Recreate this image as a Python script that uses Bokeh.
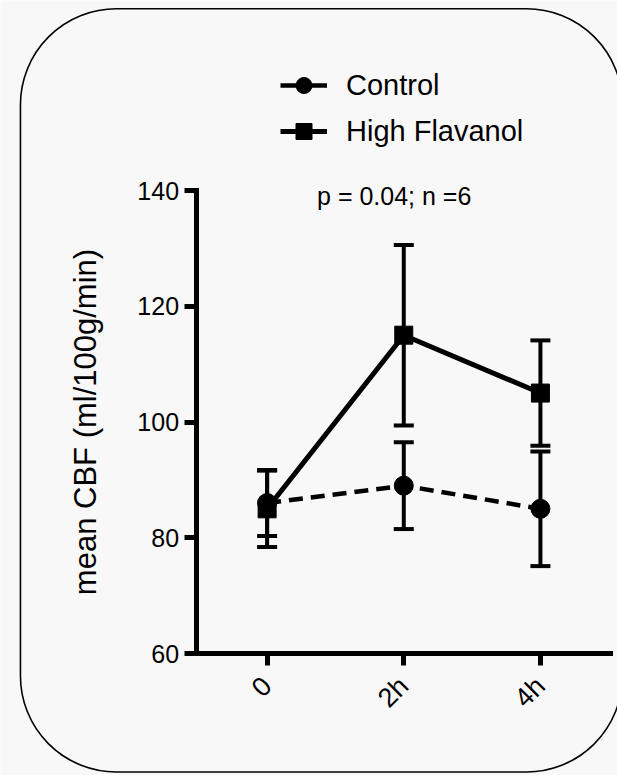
import numpy as np
from bokeh.plotting import figure
from bokeh.models import (Range1d, FixedTicker, Whisker, TeeHead, ColumnDataSource,
                          Legend, LegendItem, Label, BoxAnnotation)
from bokeh.embed import file_html
from bokeh.resources import INLINE

# ---- data ----
time_labels = ["0", "2h", "4h"]
control_mean = [86.0, 89.0, 85.0]
control_err = [5.7, 7.5, 9.9]
flavanol_mean = [85.0, 115.0, 105.0]
flavanol_err = [6.6, 15.6, 9.1]
y_ticks = [60, 80, 100, 120, 140]
annotation_text = "p = 0.04; n =6"
y_label = "mean CBF (ml/100g/min)"

BG = "#f8f8f8"
FONT = "Liberation Sans"

xs = list(range(len(time_labels)))

src_c = ColumnDataSource(dict(
    x=xs, mean=control_mean,
    lower=[m - e for m, e in zip(control_mean, control_err)],
    upper=[m + e for m, e in zip(control_mean, control_err)]))
src_f = ColumnDataSource(dict(
    x=xs, mean=flavanol_mean,
    lower=[m - e for m, e in zip(flavanol_mean, flavanol_err)],
    upper=[m + e for m, e in zip(flavanol_mean, flavanol_err)]))

# axis extents (where the drawn axes start/stop)
X_AXIS_BOUNDS = (-0.52, 2.51)
Y_AXIS_BOUNDS = (60, 140)

p = figure(width=617, height=775, output_backend="svg", toolbar_location=None,
           title=None,
           x_range=Range1d(-1.951, 2.564), y_range=Range1d(38.92, 172.83),
           min_border_left=0, min_border_right=0, min_border_top=0,
           min_border_bottom=0)
p.background_fill_color = BG
p.border_fill_color = BG
p.outline_line_color = None
p.grid.visible = False

# rounded frame around the whole graphic
frame_box = BoxAnnotation(left=-1.805, right=2.60, top=171.4, bottom=39.53,
                          fill_alpha=0, line_color="black", line_alpha=1.0,
                          line_width=1.6, border_radius=96, level="underlay")
p.add_layout(frame_box)

p.xaxis.fixed_location = Y_AXIS_BOUNDS[0]
p.yaxis.fixed_location = X_AXIS_BOUNDS[0]
p.xaxis.bounds = X_AXIS_BOUNDS
p.yaxis.bounds = Y_AXIS_BOUNDS

for ax in (p.xaxis[0], p.yaxis[0]):
    ax.axis_line_width = 5
    ax.axis_line_color = "black"
    ax.axis_line_cap = "square"
    ax.major_tick_line_width = 5
    ax.major_tick_line_color = "black"
    ax.major_tick_out = 12
    ax.major_tick_in = 0
    ax.minor_tick_line_color = None
    ax.major_label_text_color = "black"

p.xaxis.ticker = FixedTicker(ticks=xs)
p.xaxis.major_label_overrides = {i: t for i, t in enumerate(time_labels)}
p.xaxis.major_label_orientation = np.pi / 4
p.xaxis.major_label_text_font = FONT
p.xaxis.major_label_text_font_size = "27px"
p.xaxis.major_label_standoff = 16

p.yaxis.ticker = FixedTicker(ticks=y_ticks)
p.yaxis.major_label_text_font = FONT
p.yaxis.major_label_text_font_size = "25px"
p.yaxis.major_label_standoff = 5
p.yaxis.axis_label = y_label
p.yaxis.axis_label_text_font = FONT
p.yaxis.axis_label_text_font_size = "31px"
p.yaxis.axis_label_text_font_style = "normal"
p.yaxis.axis_label_text_color = "black"
p.yaxis.axis_label_standoff = 32

# error bars
for src in (src_c, src_f):
    wk = Whisker(source=src, base="x", upper="upper", lower="lower",
                 line_color="black", line_width=4,
                 upper_head=TeeHead(size=20, line_width=4, line_color="black"),
                 lower_head=TeeHead(size=20, line_width=4, line_color="black"))
    p.add_layout(wk)

c_line = p.line("x", "mean", source=src_c, line_color="black", line_width=4.5,
                line_dash="14 8")
f_line = p.line("x", "mean", source=src_f, line_color="black", line_width=5)
c_pts = p.scatter("x", "mean", source=src_c, marker="circle", size=19,
                  fill_color="black", line_color="black")
f_pts = p.scatter("x", "mean", source=src_f, marker="square", size=18,
                  fill_color="black", line_color="black")

# solid proxy line for the Control legend entry (draws nothing in the plot)
proxy_src = ColumnDataSource(dict(x=[np.nan], y=[np.nan]))
c_leg_line = p.line("x", "y", source=proxy_src, line_color="black", line_width=4.5)

legend = Legend(items=[LegendItem(label="Control", renderers=[c_leg_line, c_pts]),
                       LegendItem(label="High Flavanol", renderers=[f_line, f_pts])],
                location=(280, 624), orientation="vertical",
                glyph_width=47, glyph_height=40, spacing=6, padding=0, margin=0,
                label_standoff=19, border_line_color=None,
                background_fill_alpha=0, label_text_font=FONT,
                label_text_font_size="29px", label_text_color="black")
p.add_layout(legend)

p.add_layout(Label(x=0.93, y=139.1, text=annotation_text, text_align="center",
                   text_baseline="middle", text_font=FONT, text_font_size="25px",
                   text_color="black"))

open("out.html", "w").write(file_html(p, INLINE))
